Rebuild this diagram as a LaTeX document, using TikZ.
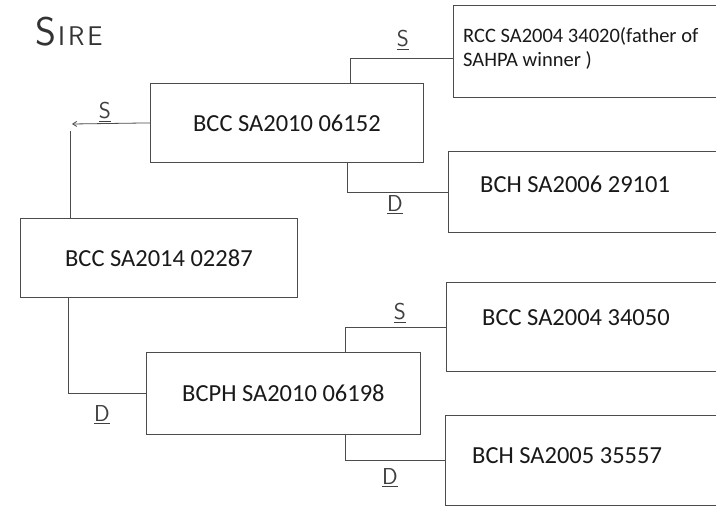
\documentclass[tikz,border=0pt]{standalone}
\usepackage{fontspec}
\setmainfont{Carlito}
\usetikzlibrary{arrows.meta}
\begin{document}
\begin{tikzpicture}[x=1pt,y=-1pt,
  line/.style={draw=black!70, line width=0.8pt},
  box/.style={line, rectangle, inner sep=0pt, anchor=north west, text=black!90,
    font=\fontsize{24.5}{28}\selectfont},
  rtext/.style={anchor=west, inner sep=0pt, text=black!90, align=left,
    font=\fontsize{24.5}{28}\selectfont},
  hand/.style={text=black!75, font=\sffamily\fontsize{23}{23}\selectfont, inner sep=1pt}
 ]
\useasboundingbox (0,0) rectangle (716,507);
\clip (0,0) rectangle (716,507);
\fill[white] (0,0) rectangle (716,507);

% title
\node[text=black!80, font=\sffamily, anchor=west, inner sep=0pt] (title) at (35,32)
  {\fontsize{40}{40}\selectfont S\kern2pt\fontsize{27}{27}\selectfont I\kern3pt R\kern3pt E};

% left boxes
\node[box, minimum width=277pt, minimum height=79pt] (a) at (20,218) {BCC SA2014 02287};
\node[box, minimum width=273pt, minimum height=79pt] (b) at (150,83) {BCC SA2010 06152};
\node[box, minimum width=274pt, minimum height=82pt] (c) at (146,352) {BCPH SA2010 06198};

% right boxes (cut off by the right edge)
\node[box, minimum width=300pt, minimum height=92pt] (r1) at (453,5) {};
\node[box, minimum width=300pt, minimum height=81pt] (r2) at (448,151) {};
\node[box, minimum width=300pt, minimum height=89pt] (r3) at (446,282) {};
\node[box, minimum width=300pt, minimum height=90pt] (r4) at (445,415) {};

\node[rtext, font=\fontsize{20.5}{23.5}\selectfont] (r1t) at ([xshift=10pt,yshift=3pt]r1.west)
  {RCC SA2004 34020(father of\\SAHPA winner )};
\node[rtext] (r2t) at ([xshift=32pt,yshift=8pt]r2.west) {BCH SA2006 29101};
\node[rtext] (r3t) at ([xshift=36pt,yshift=9pt]r3.west) {BCC SA2004 34050};
\node[rtext] (r4t) at ([xshift=27pt,yshift=5pt]r4.west) {BCH SA2005 35557};

% connectors
\coordinate (sTip) at (72,124);
\draw[line, -{Straight Barb[length=4pt,width=5pt]}] (b.west) -- (sTip);
\draw[line] ([xshift=-2pt,yshift=-7pt]sTip) -- ([xshift=-2pt]sTip |- a.north);
\draw[line] ([xshift=48pt]a.south west) |- (c.west);

\draw[line] ([xshift=200pt]b.north west) |- ([yshift=-53pt]r1.north west);
\draw[line] ([xshift=197pt]b.south west) |- (r2.west);
\draw[line] ([xshift=199pt]c.north west) |- (r3.west);
\draw[line] ([xshift=199pt]c.south west) |- (r4.west);

% S / D labels
\node[hand] (l1) at (105,112) {\underline{S}};
\node[hand] (l2) at (102,415) {\underline{D}};
\node[hand] (l3) at (403,40) {\underline{S}};
\node[hand] (l4) at (395,205) {\underline{D}};
\node[hand] (l5) at (400,313) {\underline{S}};
\node[hand] (l6) at (390,478) {\underline{D}};
\end{tikzpicture}
\end{document}
